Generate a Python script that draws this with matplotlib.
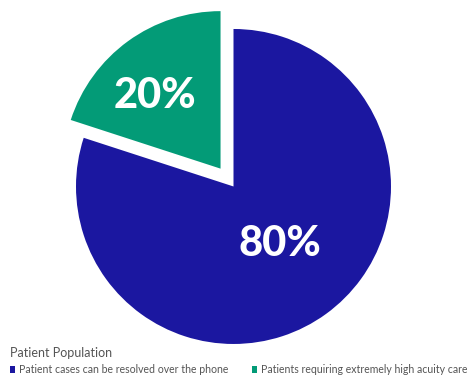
import matplotlib

matplotlib.use("Agg")
import matplotlib.pyplot as plt
import numpy as np

labels = ["Patient cases can be resolved over the phone",
          "Patients requiring extremely high acuity care"]
values = [80, 20]
colors = ["#1b17a0", "#039b77"]
explode = [0, 0.14]
label_dist = [0.47, 0.62]
label_turn = [3, 6]  # degrees, nudges label off the bisector

fig = plt.figure(figsize=(4.67, 3.75), dpi=100)
ax = fig.add_axes([0, 0, 1, 1])

wedges, _ = ax.pie(values, colors=colors, explode=explode, startangle=90,
                   counterclock=False, radius=1,
                   wedgeprops=dict(linewidth=0))

for w, v, d, t in zip(wedges, values, label_dist, label_turn):
    theta = np.deg2rad((w.theta1 + w.theta2) / 2 + t)
    cx, cy = w.center
    ax.text(cx + d * np.cos(theta), cy + d * np.sin(theta), f"{v}%",
            ha="center", va="center", color="white", fontsize=30,
            fontweight="black", family="Lato")

ax.set_xlim(-1.4825, 1.4825)
ax.set_ylim(-1.197, 1.184)
ax.set_aspect("equal")
ax.axis("off")

leg = fig.legend(wedges, labels, ncol=2, loc="lower left",
                 bbox_to_anchor=(0.0, -0.026), frameon=False,
                 title="Patient Population", alignment="left",
                 handlelength=0.55, handleheight=0.55, handletextpad=0.35,
                 columnspacing=2.2, labelcolor="#555555",
                 prop=dict(family="Lato", size=7.6))
leg.get_title().set_color("#555555")
leg.get_title().set_fontsize(9.0)
leg.get_title().set_family("Lato")

plt.savefig("out.png", dpi=100)
